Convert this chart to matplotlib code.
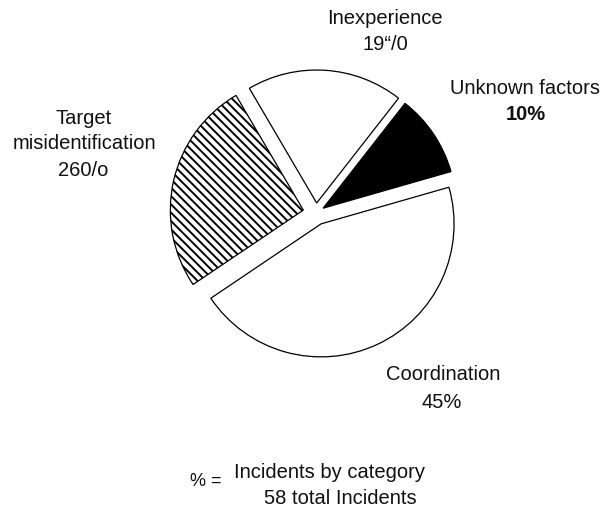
import matplotlib
matplotlib.use("Agg")
import matplotlib.pyplot as plt
from matplotlib import font_manager

# ---- data ----
categories = ["Unknown factors", "Inexperience", "Target\nmisidentification", "Coordination"]
values = [10, 19, 26, 45]
pct_labels = ["10%", "19“/0", "260/o", "45%"]
explode_px = [8.6, 10.0, 13.0, 12.0]
face_colors = ["black", "white", "white", "white"]
hatches = [None, None, "\\\\\\\\", None]
footnote_left = "% ="
footnote_right = "Incidents by category\n58 total Incidents"

W, H = 603, 512
plt.rcParams["hatch.linewidth"] = 1.4

names = {f.name for f in font_manager.fontManager.ttflist}
narrow = "Liberation Sans Narrow" if "Liberation Sans Narrow" in names else "Liberation Sans"

fig = plt.figure(figsize=(W / 100, H / 100), dpi=100)
ax = fig.add_axes([0, 0, 1, 1])

def Y(y):
    return H - y

wedges, _ = ax.pie(values, explode=explode_px, colors=face_colors, startangle=16,
                   counterclock=True, center=(316, Y(213)), radius=133,
                   wedgeprops=dict(edgecolor="black", linewidth=0.9), frame=True)
for w, h in zip(wedges, hatches):
    if h:
        w.set_hatch(h)
ax.set_xlim(0, W)
ax.set_ylim(0, H)
ax.set_aspect("equal")
ax.axis("off")

main = dict(family="Liberation Sans", fontsize=14.5, ha="center", va="center", color="#111111")
pctf = dict(family=narrow, fontsize=14.5, ha="center", va="center", color="#111111")

# Unknown factors
ax.text(525, Y(88), categories[0], **main)
ax.text(526, Y(115), pct_labels[0], family="Liberation Sans", fontsize=14.5,
        fontweight="bold", ha="center", va="center", color="#111111")
# Inexperience
ax.text(385, Y(18), categories[1], **main)
ax.text(385, Y(45), pct_labels[1], **pctf)
# Target misidentification
ax.text(84, Y(131), categories[2], linespacing=1.35, **main)
ax.text(83, Y(170), pct_labels[2], **pctf)
# Coordination
ax.text(443, Y(375), categories[3], **main)
ax.text(442, Y(402), pct_labels[3], **main)

# footnote
ax.text(206, Y(481), footnote_left, family=narrow, fontsize=13, ha="center", va="center", color="#111111")
ax.text(329, Y(473), footnote_right.split("\n")[0], **main)
ax.text(340, Y(498), footnote_right.split("\n")[1], **main)

fig.savefig("out.png", dpi=100, facecolor="white")
